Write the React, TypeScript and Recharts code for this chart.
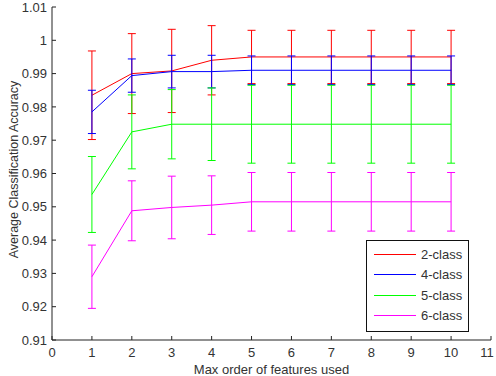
import React from 'react';
import { LineChart, Line, XAxis, YAxis, ErrorBar, Legend } from 'recharts';

const xValues = [1, 2, 3, 4, 5, 6, 7, 8, 9, 10];

const acc2 = [0.9835, 0.99, 0.9908, 0.994, 0.995, 0.995, 0.995, 0.995, 0.995, 0.995];
const err2 = [0.0133, 0.012, 0.0125, 0.0104, 0.008, 0.008, 0.008, 0.008, 0.008, 0.008];

const acc4 = [0.9785, 0.9894, 0.9906, 0.9906, 0.991, 0.991, 0.991, 0.991, 0.991, 0.991];
const err4 = [0.0065, 0.005, 0.0049, 0.0049, 0.0043, 0.0043, 0.0043, 0.0043, 0.0043, 0.0043];

const acc5 = [0.9537, 0.9725, 0.9748, 0.9748, 0.9748, 0.9748, 0.9748, 0.9748, 0.9748, 0.9748];
const err5 = [0.0114, 0.0111, 0.0104, 0.0109, 0.0117, 0.0117, 0.0117, 0.0117, 0.0117, 0.0117];

const acc6 = [0.929, 0.9488, 0.9498, 0.9505, 0.9515, 0.9515, 0.9515, 0.9515, 0.9515, 0.9515];
const err6 = [0.0095, 0.009, 0.0094, 0.0088, 0.0088, 0.0088, 0.0088, 0.0088, 0.0088, 0.0088];

const xTicks = [0, 1, 2, 3, 4, 5, 6, 7, 8, 9, 10, 11];
const yTicks = [0.91, 0.92, 0.93, 0.94, 0.95, 0.96, 0.97, 0.98, 0.99, 1.0, 1.01];

const seriesNames = ['2-class', '4-class', '5-class', '6-class'];
const seriesKeys = ['m2', 'm4', 'm5', 'm6'];
const errKeys = ['e2', 'e4', 'e5', 'e6'];
const colors = ['#ff0000', '#0000ff', '#00ff00', '#ff00ff'];

const xLabel = 'Max order of features used';
const yLabel = 'Average Classification Accuracy';

const data = xValues.map((x, i) => ({
  x,
  m2: acc2[i], e2: err2[i],
  m4: acc4[i], e4: err4[i],
  m5: acc5[i], e5: err5[i],
  m6: acc6[i], e6: err6[i],
}));

const FONT = '"Liberation Sans", Arial, sans-serif';
const AXIS = '#222';
const TEXT = '#333';

const fmtY = (v: number) => String(Math.round(v * 100) / 100);

const XTick = (props: any) => {
  const { x, y, payload } = props;
  const isLast = payload.value === xTicks[xTicks.length - 1];
  return (
    <text
      x={x}
      y={y}
      dy="0.71em"
      dx={isLast ? -4 : 0}
      textAnchor="middle"
      fontSize={13}
      fill={TEXT}
      fontFamily={FONT}
    >
      {payload.value}
    </text>
  );
};

const LegendBox = () => (
  <div
    style={{
      width: 101,
      height: 87,
      border: '1px solid #111',
      background: '#fff',
      fontFamily: FONT,
      fontSize: 13,
      color: TEXT,
      boxSizing: 'content-box',
      paddingTop: 3,
    }}
  >
    {seriesNames.map((n, i) => (
      <div key={n} style={{ display: 'flex', alignItems: 'center', height: 20.5 }}>
        <div style={{ marginLeft: 7, width: 42, height: 1, background: colors[i] }} />
        <span style={{ marginLeft: 5 }}>{n}</span>
      </div>
    ))}
  </div>
);

export default function App() {
  return (
    <div style={{ position: 'absolute', left: 0, top: 0, width: 496, height: 376, background: '#fff' }}>
      <LineChart
        width={496}
        height={376}
        data={data}
        margin={{ top: 7, right: 5, bottom: 0, left: 0 }}
        style={{ fontFamily: FONT }}
      >
        <XAxis
          xAxisId="b"
          dataKey="x"
          type="number"
          domain={[0, 11]}
          ticks={xTicks}
          interval={0}
          height={36}
          tickSize={-4}
          tickMargin={12}
          axisLine={{ stroke: AXIS }}
          tickLine={{ stroke: AXIS }}
          tick={<XTick />}
          label={{
            content: (p: any) => {
              const vb = p.viewBox || {};
              return (
                <text x={vb.x + vb.width / 2} y={vb.y + 34} textAnchor="middle" fontSize={13} fill={TEXT} fontFamily={FONT}>
                  {xLabel}
                </text>
              );
            },
          }}
        />
        <XAxis
          xAxisId="t"
          orientation="top"
          dataKey="x"
          type="number"
          domain={[0, 11]}
          ticks={xTicks}
          interval={0}
          height={0}
          tickSize={-4}
          axisLine={{ stroke: AXIS }}
          tickLine={{ stroke: AXIS }}
          tickFormatter={() => ''}
        />
        <YAxis
          yAxisId="l"
          type="number"
          domain={[0.91, 1.01]}
          ticks={yTicks}
          interval={0}
          width={52}
          tickSize={-4}
          tickMargin={9}
          tickFormatter={fmtY}
          axisLine={{ stroke: AXIS }}
          tickLine={{ stroke: AXIS }}
          tick={{ fill: TEXT, fontSize: 13 }}
          label={{
            content: (p: any) => {
              const vb = p.viewBox || {};
              const cx = 14;
              const cy = vb.y + vb.height / 2 - 4;
              return (
                <text
                  x={cx}
                  y={cy}
                  transform={`rotate(-90 ${cx} ${cy})`}
                  textAnchor="middle"
                  dominantBaseline="central"
                  fontSize={12.5}
                  fill={TEXT}
                  fontFamily={FONT}
                >
                  {yLabel}
                </text>
              );
            },
          }}
        />
        <YAxis
          yAxisId="r"
          orientation="right"
          type="number"
          domain={[0.91, 1.01]}
          ticks={yTicks}
          interval={0}
          width={0}
          tickSize={-4}
          axisLine={{ stroke: AXIS }}
          tickLine={{ stroke: AXIS }}
          tickFormatter={() => ''}
        />
        {seriesKeys.map((k, i) => (
          <Line
            key={k}
            xAxisId="b"
            yAxisId="l"
            type="linear"
            dataKey={k}
            name={seriesNames[i]}
            stroke={colors[i]}
            strokeWidth={1}
            dot={false}
            activeDot={false}
            isAnimationActive={false}
          >
            <ErrorBar dataKey={errKeys[i]} width={4} stroke={colors[i]} strokeWidth={1} direction="y" isAnimationActive={false} />
          </Line>
        ))}
        <Legend
          layout="vertical"
          align="center"
          verticalAlign="middle"
          wrapperStyle={{ position: 'absolute', left: 366, top: 240, width: 103 }}
          content={() => <LegendBox />}
        />
      </LineChart>
    </div>
  );
}
